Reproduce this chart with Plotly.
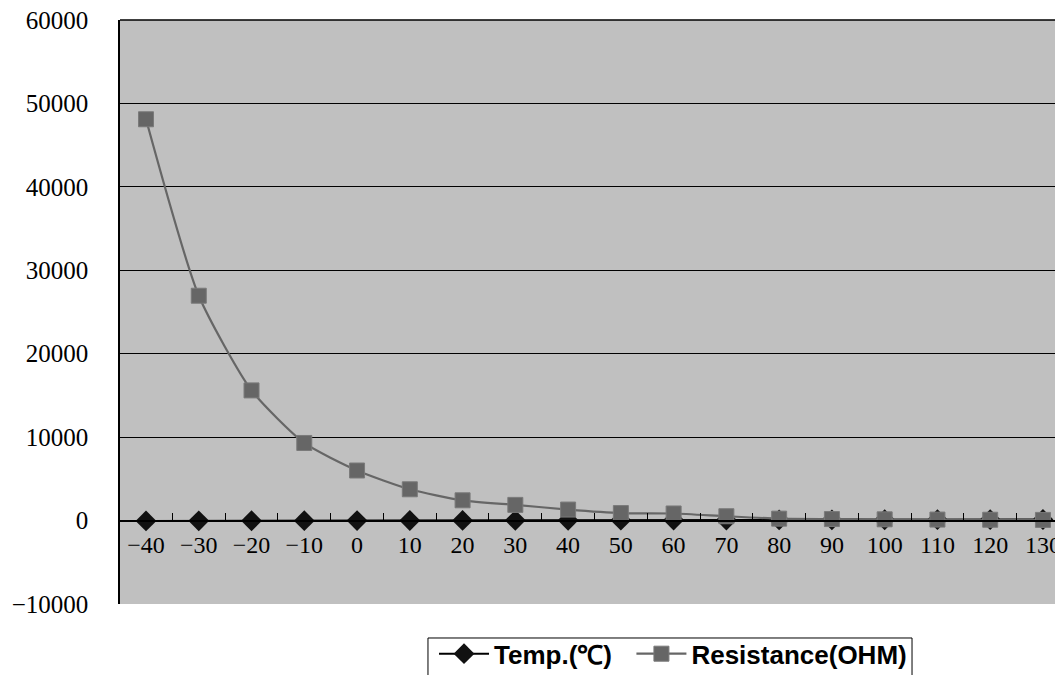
import plotly.graph_objects as go

# Temperature categories and the two series
temps = [-40, -30, -20, -10, 0, 10, 20, 30, 40, 50, 60, 70, 80, 90, 100, 110, 120, 130]
temp_vals = [-40, -30, -20, -10, 0, 10, 20, 30, 40, 50, 60, 70, 80, 90, 100, 110, 120, 130]
resistance = [48100, 26950, 15600, 9300, 6000, 3750, 2430, 1880, 1320, 900, 850, 520,
              230, 180, 150, 120, 100, 80]

y_ticks = [-10000, 0, 10000, 20000, 30000, 40000, 50000, 60000]

fig = go.Figure()

fig.add_trace(go.Scatter(
    x=temps, y=temp_vals, name="Temp.(℃)\u00a0\u00a0",  # nbsp pads the gap to the next entry
    mode="lines+markers",
    line=dict(color="#000000", width=2),
    marker=dict(symbol="diamond", size=16, color="#111111"),
))

fig.add_trace(go.Scatter(
    x=temps, y=resistance, name="Resistance(OHM)",
    mode="lines+markers",
    line=dict(color="#666666", width=2.2, shape="spline", smoothing=0.6),
    marker=dict(symbol="square", size=15, color="#666666",
                line=dict(color="#7a7a7a", width=1)),
))

# zero line position as fraction of the plot height
zero_pos = (0 - y_ticks[0]) / (y_ticks[-1] - y_ticks[0])

# border round the plot area (top edge is not drawn by the axes)
fig.add_shape(type="line", xref="paper", yref="paper", x0=0, x1=1, y0=1, y1=1,
              line=dict(color="black", width=1.5))
# legend frame, open at the bottom of the page
fig.add_shape(type="rect", xref="paper", yref="paper",
              x0=0.3266, x1=0.8399, y0=-0.0582, y1=-0.14,
              line=dict(color="black", width=1), fillcolor="white", layer="below")

# page body adds an 8px margin, so the figure is a little smaller
fig.update_layout(
    width=1055, height=667,
    margin=dict(l=112, r=0, t=12, b=71, autoexpand=False),
    paper_bgcolor="white",
    plot_bgcolor="#c0c0c0",
    showlegend=True,
    legend=dict(
        orientation="h",
        x=0.333, xanchor="left",
        y=-0.045, yanchor="top",
        borderwidth=0,
        bgcolor="rgba(0,0,0,0)",
        font=dict(family="Liberation Sans", size=26, color="black", weight="bold"),
        itemwidth=50,
    ),
    xaxis=dict(
        range=[-44.93, 133.8],
        anchor="free", position=zero_pos,
        tickvals=temps,
        ticktext=[str(t).replace("-", "\u2212") for t in temps],
        ticks="outside", ticklen=3, tickcolor="rgba(0,0,0,0)",
        showgrid=False, zeroline=False,
        showline=True, linecolor="black", linewidth=2,
        tickfont=dict(family="Liberation Serif", size=24, color="black"),
        minor=dict(tickvals=[t + 5 for t in temps[:-1]], ticks="inside",
                   ticklen=7, tickcolor="black", tickwidth=1),
    ),
    yaxis=dict(
        range=[y_ticks[0], y_ticks[-1]],
        tickvals=y_ticks,
        ticktext=[str(v).replace("-", "\u2212") for v in y_ticks],
        ticklabeloverflow="allow",
        showgrid=True, gridcolor="black", gridwidth=1,
        zeroline=False,
        showline=True, linecolor="black", linewidth=1.5,
        ticks="outside", ticklen=25, tickcolor="rgba(0,0,0,0)",
        tickfont=dict(family="Liberation Serif", size=25, color="black"),
    ),
)

fig.write_html("out.html")
